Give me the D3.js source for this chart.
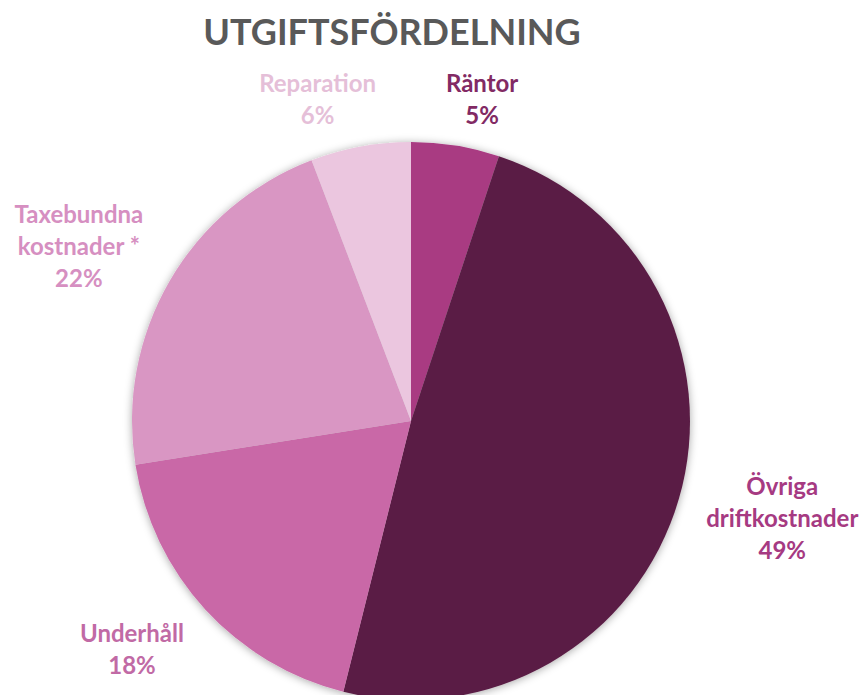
<!DOCTYPE html>
<html><head><meta charset="utf-8">
<script src="https://cdn.jsdelivr.net/npm/d3@7/dist/d3.min.js"></script>
<style>body{margin:0;background:#fff}svg{display:block}</style>
</head><body>
<script>
const title = "UTGIFTSFÖRDELNING";
const categories = ["Räntor", "Övriga driftkostnader", "Underhåll", "Taxebundna kostnader *", "Reparation"];
const labelLines = [["Räntor"], ["Övriga", "driftkostnader"], ["Underhåll"], ["Taxebundna", "kostnader *"], ["Reparation"]];
const values = [5.1, 48.8, 18.6, 21.7, 5.8];
const percentLabels = ["5%", "49%", "18%", "22%", "6%"];
const sliceColors = ["#A93A82", "#5A1E45", "#C968A7", "#D996C3", "#EBC6DF"];
const labelColors = ["#822A64", "#A63A82", "#C16AA5", "#D68FC1", "#E5BFD8"];
// layout of the outside labels (radius from centre, angular nudge in degrees)
const labelRadius = [329, 384, 361, 375, 334];
const labelNudge = [3.3, -1.4, 3.1, -2.4, -5.8];

const W = 864, H = 695, cx = 411, cy = 421, R = 279;
const svg = d3.select("body").append("svg").attr("width", W).attr("height", H);
const defs = svg.append("defs");
const f = defs.append("filter").attr("id", "sh").attr("x", "-20%").attr("y", "-20%").attr("width", "140%").attr("height", "140%");
f.append("feDropShadow").attr("dx", 0).attr("dy", 1).attr("stdDeviation", 4).attr("flood-color", "#000").attr("flood-opacity", 0.35);

svg.append("text").attr("x", 392).attr("y", 45).attr("text-anchor", "middle")
  .attr("font-family", "Lato, 'Open Sans', sans-serif").attr("font-weight", 700)
  .attr("font-size", 36).attr("fill", "#595959").text(title);

const pie = d3.pie().sort(null).value(d => d)(values);
const arc = d3.arc().innerRadius(0).outerRadius(R);
const g = svg.append("g").attr("transform", `translate(${cx},${cy})`);
g.append("g").attr("filter", "url(#sh)").selectAll("path").data(pie).join("path")
  .attr("d", arc).attr("fill", (d, i) => sliceColors[i]);

const lh = 32;
pie.forEach((d, i) => {
  const a = (d.startAngle + d.endAngle) / 2 + labelNudge[i] * Math.PI / 180;
  const x = labelRadius[i] * Math.sin(a), y = -labelRadius[i] * Math.cos(a);
  const lines = labelLines[i].concat([percentLabels[i]]);
  const t = g.append("text").attr("text-anchor", "middle")
    .attr("font-family", "Lato, 'Open Sans', sans-serif").attr("font-weight", 700)
    .attr("font-size", 24).attr("fill", labelColors[i]);
  lines.forEach((s, k) => {
    t.append("tspan").attr("x", x).attr("y", y + (k - (lines.length - 1) / 2) * lh + 8).text(s);
  });
});
</script>
</body></html>
